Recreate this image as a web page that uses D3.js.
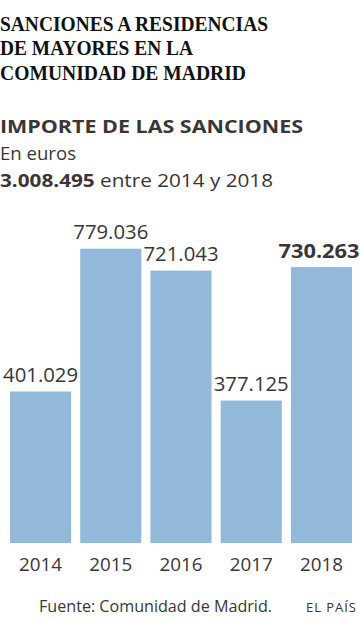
<!DOCTYPE html>
<html>
<head>
<meta charset="utf-8">
<script src="https://cdn.jsdelivr.net/npm/d3@7"></script>
<style>
  html, body { margin: 0; padding: 0; background: #fff; }
  svg { display: block; }
</style>
</head>
<body>
<svg id="chart" width="360" height="622"></svg>
<script>
const titleLines = ["SANCIONES A RESIDENCIAS", "DE MAYORES EN LA", "COMUNIDAD DE MADRID"];
const subtitle = "IMPORTE DE LAS SANCIONES";
const unitText = "En euros";
const totalValue = "3.008.495";
const totalText = " entre 2014 y 2018";
const years = ["2014", "2015", "2016", "2017", "2018"];
const values = [401029, 779036, 721043, 377125, 730263];
const valueLabels = ["401.029", "779.036", "721.043", "377.125", "730.263"];
const highlightYear = "2018";
const source = "Fuente: Comunidad de Madrid.";
const brand = "EL PAÍS";

const svg = d3.select("#chart");
const textColor = "#3a3538";
const barColor = "#93b9da";
const sans = "'Open Sans', Roboto, sans-serif";

// Title (serif, condensed bold)
const titleWidths = [268, 193, 246];
svg.selectAll("text.title").data(titleLines).join("text")
  .attr("class", "title")
  .attr("x", 0)
  .attr("y", (d, i) => 30.5 + i * 24.5)
  .attr("font-family", "'Liberation Serif', 'DejaVu Serif', serif")
  .attr("font-weight", "bold")
  .attr("font-size", 20)
  .attr("fill", "#111")
  .attr("textLength", (d, i) => titleWidths[i])
  .attr("lengthAdjust", "spacingAndGlyphs")
  .text(d => d);

svg.append("text")
  .attr("x", 0).attr("y", 133.3)
  .attr("font-family", sans).attr("font-weight", "bold").attr("font-size", 17.5)
  .attr("fill", textColor)
  .attr("textLength", 303).attr("lengthAdjust", "spacingAndGlyphs")
  .text(subtitle);

svg.append("text")
  .attr("x", 0).attr("y", 160.2)
  .attr("font-family", sans).attr("font-size", 17.8)
  .attr("fill", textColor)
  .attr("textLength", 76).attr("lengthAdjust", "spacingAndGlyphs")
  .text(unitText);

const tot = svg.append("text")
  .attr("x", 0).attr("y", 186.6)
  .attr("font-family", sans).attr("font-size", 18.5)
  .attr("fill", textColor)
  .attr("textLength", 273).attr("lengthAdjust", "spacingAndGlyphs");
tot.append("tspan").attr("font-weight", "bold").text(totalValue);
tot.append("tspan").text(totalText);

// Bars
const x = d3.scaleBand().domain(years).range([10, 352]).paddingInner(0.13).paddingOuter(0);
const y = d3.scaleLinear().domain([0, 779036]).range([543, 248.7]);

svg.selectAll("rect.bar").data(values).join("rect")
  .attr("class", "bar")
  .attr("x", (d, i) => x(years[i]))
  .attr("y", d => y(d))
  .attr("width", x.bandwidth())
  .attr("height", d => y(0) - y(d))
  .attr("fill", barColor);

svg.selectAll("text.val").data(values).join("text")
  .attr("class", "val")
  .attr("x", (d, i) => Math.min(x(years[i]) + x.bandwidth() / 2, 319))
  .attr("y", d => y(d) - 9.5)
  .attr("text-anchor", "middle")
  .attr("font-family", sans)
  .attr("font-size", 20)
  .attr("font-weight", (d, i) => years[i] === highlightYear ? "bold" : "normal")
  .attr("fill", textColor)
  .attr("textLength", (d, i) => years[i] === highlightYear ? 81 : 75)
  .attr("lengthAdjust", "spacingAndGlyphs")
  .text((d, i) => valueLabels[i]);

// X axis labels
const xAxis = d3.axisBottom(x).tickSize(0).tickPadding(0);
const gx = svg.append("g").attr("transform", "translate(0,557)").call(xAxis);
gx.select(".domain").remove();
gx.selectAll("text")
  .attr("font-family", sans)
  .attr("font-size", 18.7)
  .attr("fill", textColor)
  .attr("dy", "0.74em")
  .attr("textLength", 43)
  .attr("lengthAdjust", "spacingAndGlyphs");

// Footer
svg.append("text")
  .attr("x", 39).attr("y", 611.5)
  .attr("font-family", sans).attr("font-size", 16)
  .attr("fill", textColor)
  .attr("textLength", 233).attr("lengthAdjust", "spacingAndGlyphs")
  .text(source);
svg.append("text")
  .attr("x", 306).attr("y", 611.5)
  .attr("font-family", sans).attr("font-size", 13)
  .attr("fill", textColor)
  .attr("textLength", 50).attr("lengthAdjust", "spacing")
  .text(brand);
</script>
</body>
</html>
